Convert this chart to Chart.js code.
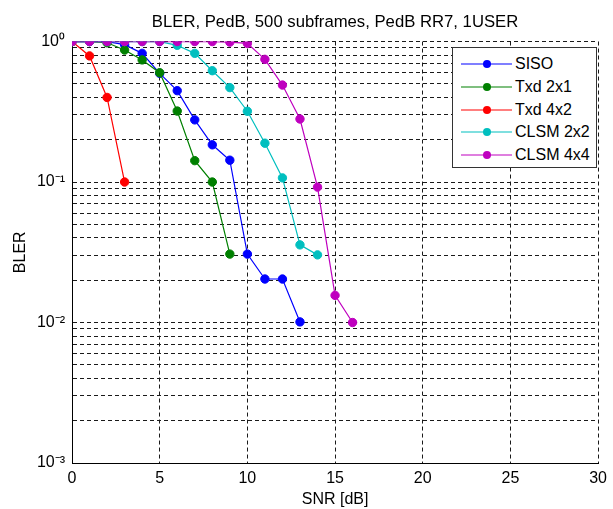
<!DOCTYPE html>
<html><head><meta charset="utf-8">
<script src="https://cdn.jsdelivr.net/npm/chart.js@4.4.1/dist/chart.umd.min.js"></script>
<style>
html,body{margin:0;padding:0;background:#fff;}
#wrap{position:relative;width:613px;height:509px;}
#legend{position:absolute;left:452px;top:47px;width:145px;height:121px;border:1px solid #333;background:#fff;box-sizing:border-box;font:16px "Liberation Sans",Arial,sans-serif;color:#000;}
.item{position:absolute;left:0;height:22px;width:145px;}
.item svg{position:absolute;left:8px;top:0;}
.item span{position:absolute;left:62px;top:1px;line-height:20px;white-space:nowrap;}
</style>
</head><body>
<div id="wrap">
<canvas id="c" width="613" height="509"></canvas>
<div id="legend"></div>
</div>
<script>
const chartTitle = "BLER, PedB, 500 subframes, PedB RR7, 1USER";
const xTitle = "SNR [dB]";
const yTitle = "BLER";
const seriesNames = ["SISO", "Txd 2x1", "Txd 4x2", "CLSM 2x2", "CLSM 4x4"];
const seriesColors = ["#0000FF", "#008000", "#FF0000", "#00BFBF", "#BF00BF"];

const snrSISO = [0,1,2,3,4,5,6,7,8,9,10,11,12,13];
const blerSISO = [1,1,1,0.95,0.824,0.594,0.447,0.277,0.184,0.143,0.0307,0.0204,0.0204,0.0101];
const snrTxd2x1 = [0,1,2,3,4,5,6,7,8,9];
const blerTxd2x1 = [1,1,0.98,0.87,0.74,0.60,0.32,0.142,0.10,0.0307];
const snrTxd4x2 = [0,1,2,3];
const blerTxd4x2 = [1,0.79,0.40,0.10];
const snrCLSM2x2 = [0,1,2,3,4,5,6,7,8,9,10,11,12,13,14];
const blerCLSM2x2 = [1,1,1,1,1,1,0.94,0.824,0.62,0.47,0.319,0.189,0.107,0.0357,0.0303];
const snrCLSM4x4 = [0,1,2,3,4,5,6,7,8,9,10,11,12,13,14,15,16];
const blerCLSM4x4 = [1,1,1,1,1,1,1,1,1,0.99,0.97,0.747,0.49,0.281,0.092,0.0156,0.01];

const xTickValues = [0,5,10,15,20,25,30];
const yTickValues = [0.001,0.002,0.003,0.004,0.005,0.006,0.007,0.008,0.009,
  0.01,0.02,0.03,0.04,0.05,0.06,0.07,0.08,0.09,
  0.1,0.2,0.3,0.4,0.5,0.6,0.7,0.8,0.9,1];
const yTickLabels = {"1":"10\u2070","0.1":"10\u207B\u00B9","0.01":"10\u207B\u00B2","0.001":"10\u207B\u00B3"};

const snrs = [snrSISO, snrTxd2x1, snrTxd4x2, snrCLSM2x2, snrCLSM4x4];
const blers = [blerSISO, blerTxd2x1, blerTxd4x2, blerCLSM2x2, blerCLSM4x4];

const FONT = '"Liberation Sans", Arial, sans-serif';

const datasets = seriesNames.map((name, i) => ({
  label: name,
  data: snrs[i].map((x, k) => ({x: x, y: blers[i][k]})),
  borderColor: seriesColors[i],
  backgroundColor: seriesColors[i],
  pointBackgroundColor: seriesColors[i],
  pointBorderColor: seriesColors[i],
  borderWidth: 1.2,
  pointRadius: 4.2,
  pointBorderWidth: 1,
  tension: 0,
  order: seriesNames.length - i
}));

new Chart(document.getElementById('c'), {
  type: 'line',
  data: { datasets },
  options: {
    responsive: false,
    animation: false,
    devicePixelRatio: 1,
    layout: { padding: { left: 0, right: 10, top: 0, bottom: 0 } },
    plugins: {
      legend: { display: false },
      tooltip: { enabled: false },
      title: {
        display: true, text: chartTitle, color: '#000', fullSize: false,
        font: { family: FONT, size: 16.7, weight: 'normal', lineHeight: 1.2 },
        padding: { top: 12.5, bottom: 9 }
      }
    },
    scales: {
      x: {
        type: 'linear', min: 0, max: 30,
        afterBuildTicks: s => { s.ticks = xTickValues.map(v => ({value: v})); },
        afterFit: s => { s.height = 46; },
        ticks: { color: '#000', font: { family: FONT, size: 16 }, padding: 6, autoSkip: false, maxRotation: 0 },
        grid: { color: '#1a1a1a', lineWidth: 1, drawTicks: false },
        border: { display: true, color: '#000', width: 1, dash: [4, 3] },
        title: { display: true, text: xTitle, color: '#000', font: { family: FONT, size: 16 }, padding: { top: 0, bottom: 0 } }
      },
      y: {
        type: 'logarithmic', min: 0.001, max: 1,
        afterBuildTicks: s => { s.ticks = yTickValues.map(v => ({value: v})); },
        afterFit: s => { s.width = 72; },
        ticks: {
          color: '#000', font: { family: FONT, size: 16 }, padding: 7, autoSkip: false,
          callback: (v) => yTickLabels[String(v)] || ''
        },
        grid: { color: '#1a1a1a', lineWidth: 1, drawTicks: false },
        border: { display: true, color: '#000', width: 1, dash: [4, 3] },
        title: { display: true, text: yTitle, color: '#000', font: { family: FONT, size: 16 }, padding: { top: 10.5, bottom: 0 } }
      }
    }
  }
});

// legend overlay
const leg = document.getElementById('legend');
seriesNames.forEach((name, i) => {
  const d = document.createElement('div');
  d.className = 'item';
  d.style.top = (5 + i * 22.75) + 'px';
  d.innerHTML = '<svg width="52" height="22"><line x1="0" y1="11" x2="51" y2="11" stroke="' + seriesColors[i] + '" stroke-width="1.2"/><circle cx="26" cy="11" r="4" fill="' + seriesColors[i] + '"/></svg><span></span>';
  d.querySelector('span').textContent = name;
  leg.appendChild(d);
});
</script>
</body></html>
